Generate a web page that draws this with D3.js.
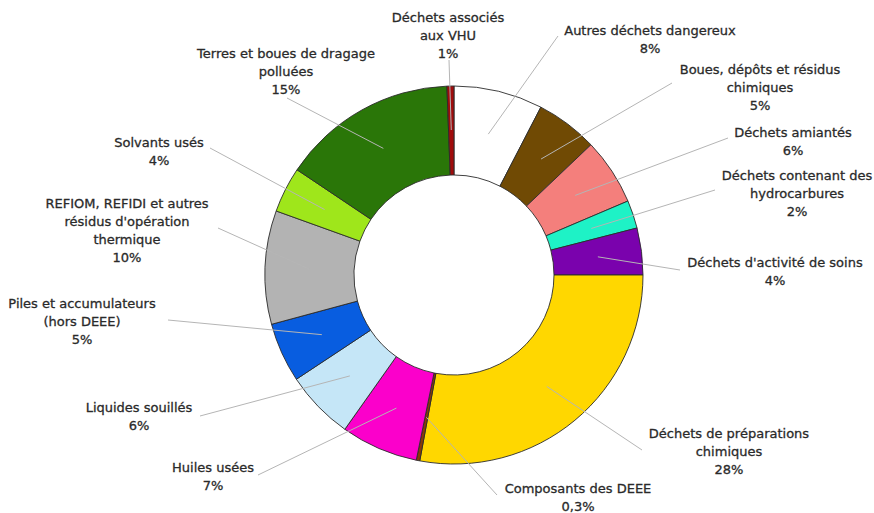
<!DOCTYPE html>
<html><head><meta charset="utf-8">
<script src="https://cdn.jsdelivr.net/npm/d3@7"></script>
<style>
html,body{margin:0;padding:0;background:#fff;}
svg text{font-family:"DejaVu Sans",Verdana,sans-serif;font-size:13px;fill:#2a2a2a;stroke:#2a2a2a;stroke-width:0.3px;}
</style></head>
<body><svg id="chart" width="874" height="513"></svg>
<script>
// ---- data ----
const categories = [
  "Autres déchets dangereux",
  "Boues, dépôts et résidus chimiques",
  "Déchets amiantés",
  "Déchets contenant des hydrocarbures",
  "Déchets d'activité de soins",
  "Déchets de préparations chimiques",
  "Composants des DEEE",
  "Huiles usées",
  "Liquides souillés",
  "Piles et accumulateurs (hors DEEE)",
  "REFIOM, REFIDI et autres résidus d'opération thermique",
  "Solvants usés",
  "Terres et boues de dragage polluées",
  "Déchets associés aux VHU"
];
const values = [7.6, 5.3, 5.7, 2.4, 4.0, 27.9, 0.3, 6.6, 5.9, 5.1, 9.7, 3.9, 15.0, 0.6];
const pctLabels = ["8%", "5%", "6%", "2%", "4%", "28%", "0,3%", "7%", "6%", "5%", "10%", "4%", "15%", "1%"];
const colors = ["#ffffff", "#704a04", "#f47f7c", "#1ef2c6", "#7a02ad", "#ffd700", "#8a3a06",
                "#fb00cb", "#c5e6f7", "#085de0", "#b3b3b3", "#9fe61b", "#2a7608", "#a00c0c"];

// ---- layout (label wrapping and placement) ----
const labelLines = [
  ["Autres déchets dangereux"],
  ["Boues, dépôts et résidus", "chimiques"],
  ["Déchets amiantés"],
  ["Déchets contenant des", "hydrocarbures"],
  ["Déchets d'activité de soins"],
  ["Déchets de préparations", "chimiques"],
  ["Composants des DEEE"],
  ["Huiles usées"],
  ["Liquides souillés"],
  ["Piles et accumulateurs", "(hors DEEE)"],
  ["REFIOM, REFIDI et autres", "résidus d'opération", "thermique"],
  ["Solvants usés"],
  ["Terres et boues de dragage", "polluées"],
  ["Déchets associés", "aux VHU"]
];
// label block: centre x, first-line centre y ; leader end point
const labelPos = [
  {x: 650, y: 30, lx: 558, ly: 36},
  {x: 760, y: 69, lx: 672, ly: 83},
  {x: 793, y: 132, lx: 728, ly: 138},
  {x: 797, y: 175, lx: 715, ly: 190},
  {x: 775, y: 262, lx: 680, ly: 270},
  {x: 729, y: 433, lx: 642, ly: 450},
  {x: 578, y: 488, lx: 497, ly: 495},
  {x: 213, y: 467, lx: 258, ly: 475},
  {x: 139, y: 407, lx: 200, ly: 416},
  {x: 82, y: 303, lx: 168, ly: 320},
  {x: 127, y: 203, lx: 218, ly: 228},
  {x: 159, y: 142, lx: 210, ly: 148},
  {x: 286, y: 53, lx: 287, ly: 98},
  {x: 448, y: 17, lx: 449, ly: 60}
];

const cx = 454, cy = 275, rOuter = 189, rInner = 100, rLeader = 145, lineH = 18;

const svg = d3.select("#chart");
const g = svg.append("g").attr("transform", `translate(${cx},${cy})`);

const data = categories.map((c, i) => ({name: c, value: values[i], color: colors[i], pct: pctLabels[i], lines: labelLines[i], pos: labelPos[i]}));

const pie = d3.pie().sort(null).value(d => d.value).startAngle(0).endAngle(2 * Math.PI);
const arcs = pie(data);
const arc = d3.arc().innerRadius(rInner).outerRadius(rOuter);
const leaderArc = d3.arc().innerRadius(rLeader).outerRadius(rLeader);

g.selectAll("path.slice").data(arcs).join("path")
  .attr("class", "slice")
  .attr("d", arc)
  .attr("fill", d => d.data.color)
  .attr("stroke", "#2b2b2b")
  .attr("stroke-width", 0.9);

// leader lines
g.selectAll("line.leader").data(arcs).join("line")
  .attr("class", "leader")
  .attr("x1", d => leaderArc.centroid(d)[0])
  .attr("y1", d => leaderArc.centroid(d)[1])
  .attr("x2", d => d.data.pos.lx - cx)
  .attr("y2", d => d.data.pos.ly - cy)
  .attr("stroke", "#b5b5b5")
  .attr("stroke-width", 1);

// labels
const lbl = svg.selectAll("text.lbl").data(data).join("text")
  .attr("class", "lbl")
  .attr("text-anchor", "middle");
lbl.each(function(d) {
  const t = d3.select(this);
  const all = d.lines.concat([d.pct]);
  all.forEach((s, k) => {
    t.append("tspan").attr("x", d.pos.x).attr("y", d.pos.y + k * lineH + 4.5).text(s);
  });
});
</script></body></html>
